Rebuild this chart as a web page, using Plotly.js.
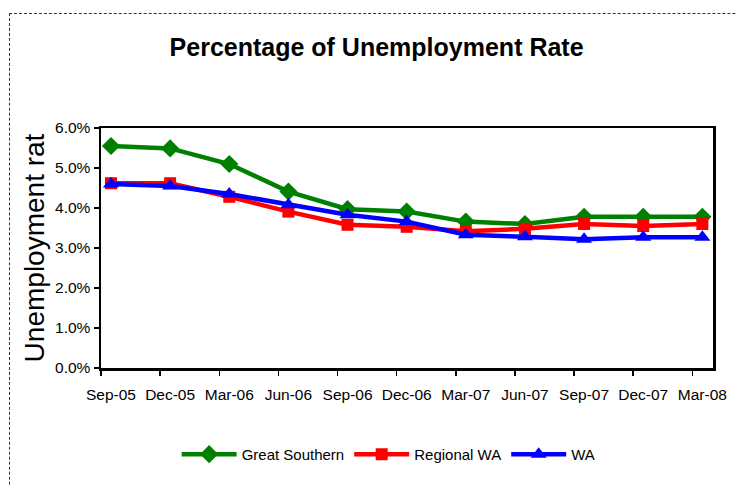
<!DOCTYPE html>
<html>
<head>
<meta charset="utf-8">
<script src="https://cdn.plot.ly/plotly-3.0.1.min.js"></script>
<style>
  html, body { margin:0; padding:0; background:#fff; overflow:hidden; }
  #frame { position:absolute; left:9px; top:13px; width:900px; height:700px; border-left:1px dashed #333; border-top:1px dashed #333; }
  #chart { position:absolute; left:0; top:0; width:737px; height:486px; }
</style>
</head>
<body>
<div id="frame"></div>
<div id="chart"></div>
<script>
const categories = ["Sep-05","Dec-05","Mar-06","Jun-06","Sep-06","Dec-06","Mar-07","Jun-07","Sep-07","Dec-07","Mar-08"];
const greatSouthern = [0.0555,0.0549,0.0510,0.0441,0.0397,0.0391,0.0366,0.0360,0.0378,0.0378,0.0378];
const regionalWA   = [0.0462,0.0462,0.0428,0.0391,0.0358,0.0353,0.0342,0.0348,0.0360,0.0355,0.0360];
const wa           = [0.0460,0.0455,0.0435,0.0408,0.0383,0.0366,0.0333,0.0328,0.0322,0.0327,0.0327];
const yTicks = [0,0.01,0.02,0.03,0.04,0.05,0.06];

const idx = categories.map((c,i)=>i);
const off = 0.169;
const range = [-off, 10.18];

function tr(name, y, color, symbol, size){
  return {x: idx, y: y, name: name, type:'scatter', mode:'lines+markers',
    line:{color:color, width:4.5}, marker:{color:color, symbol:symbol, size:size}};
}
const data = [
  tr('Great Southern', greatSouthern, '#008000', 'diamond', 14),
  tr('Regional WA', regionalWA, '#ff0000', 'square', 12),
  tr('WA', wa, '#0000ff', 'triangle-up', 14),
  {x: idx, y: idx.map(()=>null), xaxis:'x2', showlegend:false, hoverinfo:'skip', type:'scatter', mode:'lines'}
];

const layout = {
  width:737, height:486,
  margin:{l:101, r:24, t:128, b:118},
  paper_bgcolor:'rgba(0,0,0,0)', plot_bgcolor:'#fff',
  font:{family:'Liberation Sans, Arial, sans-serif', color:'#000', size:15},
  title:{text:'<b>Percentage of Unemployment Rate</b>', x:0.511, xanchor:'center', y:0.903, yanchor:'middle', yref:'container',
    font:{size:25, family:'Liberation Sans, Arial, sans-serif'}},
  xaxis:{range:range, tickmode:'array', tickvals: idx.map(i=>i-off), ticktext: idx.map(()=>''),
    ticks:'outside', ticklen:5, tickwidth:1.5, tickcolor:'#000', showline:true, linecolor:'#000', linewidth:2.5,
    mirror:true, showgrid:false, zeroline:false, fixedrange:true},
  xaxis2:{overlaying:'x', side:'bottom', range:range, tickmode:'array', tickvals: idx, ticktext: categories,
    ticks:'', showline:false, showgrid:false, zeroline:false, tickfont:{size:15.5}, ticklabelstandoff:15},
  yaxis:{range:[0,0.06], tickmode:'array', tickvals:yTicks, tickformat:'.1%', ticks:'outside', ticklen:5, tickwidth:1.5,
    tickcolor:'#000', showline:true, linecolor:'#000', linewidth:2.5, mirror:true, showgrid:false, zeroline:false,
    tickfont:{size:15.5},
    title:{text:'Unemployment rat', font:{size:28}, standoff:3}},
  legend:{orientation:'h', x:0.47, xanchor:'center', y:-0.36, yanchor:'middle', font:{size:15}, itemwidth:55, traceorder:'normal'},
  showlegend:true
};
Plotly.newPlot('chart', data, layout, {displayModeBar:false, staticPlot:true});
</script>
</body>
</html>
